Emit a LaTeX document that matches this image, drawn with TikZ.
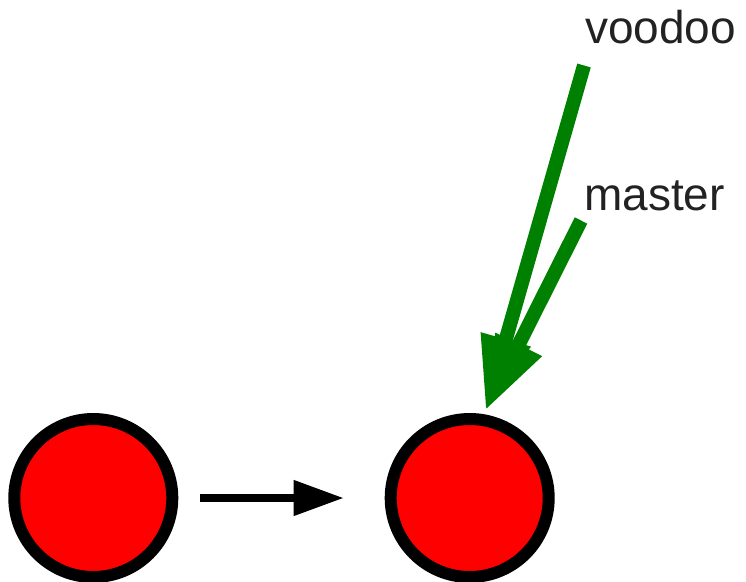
\documentclass[tikz,border=0pt]{standalone}
\usepackage{fontspec}
\setmainfont{Liberation Sans}
\usetikzlibrary{arrows.meta}
\definecolor{ptrgreen}{RGB}{0,128,0}
\definecolor{labelgray}{RGB}{34,34,34}
\tikzset{
  commit/.style={circle, draw=black, line width=12pt, fill=red, minimum size=158pt, inner sep=0pt},
  reflabel/.style={anchor=base west, inner sep=0pt, text=labelgray, font=\fontsize{46}{50}\selectfont},
  refptr/.style={draw=ptrgreen, line width=14pt, -{Triangle[length=74pt,width=48pt]}, ptrgreen},
  parentarrow/.style={draw=black, line width=7.5pt, -{Triangle[length=50pt,width=34pt]}}
}
\begin{document}
\begin{tikzpicture}[x=1pt,y=-1pt]
\useasboundingbox (0,0) rectangle (746,581);
\node[commit] (c1) at (93.3,498) {};
\node[commit] (c2) at (469.7,498) {};
\draw[parentarrow, shorten <=22pt, shorten >=41pt] (c1) -- (c2);
\coordinate (tip) at (485.5,410.5);
\coordinate (vstart) at (584,65.5);
\coordinate (mstart) at (581,220.5);
\node[reflabel] (voodoo) at (585,43.3) {voodoo};
\node[reflabel] (master) at (584,210) {master};
\draw[refptr] (vstart) -- (tip);
\draw[refptr] (mstart) -- (tip);
\end{tikzpicture}
\end{document}
